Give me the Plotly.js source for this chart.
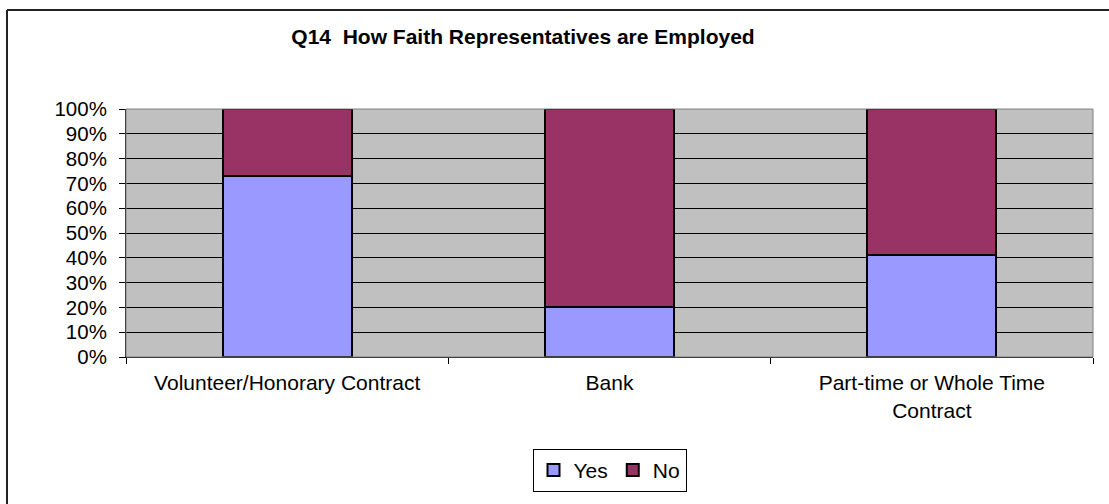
<!DOCTYPE html>
<html>
<head>
<meta charset="utf-8">
<script src="https://cdn.plot.ly/plotly-3.0.1.min.js"></script>
<style>
html, body { margin: 0; padding: 0; background: #fff; }
#chart { width: 1109px; height: 504px; }
</style>
</head>
<body>
<div id="chart"></div>
<script>
const categories = ["Volunteer/Honorary Contract", "Bank", "Part-time or Whole Time<br>Contract"];
const yesValues = [0.73, 0.20, 0.41];
const noValues = [0.27, 0.80, 0.59];
const seriesNames = ["Yes", "No"];
const titleText = "Q14  How Faith Representatives are Employed";

const W = 1109, H = 504;
const mL = 126, mR = 16, mT = 109, mB = 137;
const pw = W - mL - mR, ph = H - mT - mB;
function px(x) { return (x - mL) / pw; }
function py(y) { return (H - mB - y) / ph; }

const traces = [
  { type: "bar", name: seriesNames[0], x: categories, y: yesValues,
    marker: { color: "#9999FF", line: { color: "#000", width: 2 } } },
  { type: "bar", name: seriesNames[1], x: categories, y: noValues,
    marker: { color: "#993366", line: { color: "#000", width: 2 } } }
];

const font = "Liberation Sans, Arial, sans-serif";
const layout = {
  width: W, height: H,
  margin: { l: mL, r: mR, t: mT, b: mB, pad: 0 },
  paper_bgcolor: "#fff",
  plot_bgcolor: "#C0C0C0",
  barmode: "stack",
  bargap: 0.6,
  showlegend: true,
  font: { family: font, size: 21, color: "#000" },
  title: { text: "<b>" + titleText + "</b>", x: 523 / W, xref: "container", xanchor: "center",
           y: 1 - 37 / H, yref: "container", yanchor: "middle", font: { family: font, size: 21, color: "#000" } },
  xaxis: {
    type: "category",
    showline: true, linecolor: "#000", linewidth: 1,
    ticks: "outside", ticklen: 6, tickcolor: "#000", tickson: "boundaries",
    ticklabelstandoff: 7,
    showgrid: false, zeroline: false,
    tickfont: { family: font, size: 21, color: "#000" },
    fixedrange: true
  },
  yaxis: {
    range: [0, 1], tickvals: [0,0.1,0.2,0.3,0.4,0.5,0.6,0.7,0.8,0.9,1],
    tickformat: ".0%",
    showline: true, linecolor: "#000", linewidth: 1,
    ticks: "outside", ticklen: 6, tickcolor: "#000",
    ticklabelstandoff: 8,
    showgrid: true, gridcolor: "#000", gridwidth: 1, zeroline: false,
    tickfont: { family: font, size: 20.5, color: "#000" },
    fixedrange: true
  },
  legend: {
    orientation: "h", x: px(609.5), xanchor: "center", y: py(485), yanchor: "middle",
    bordercolor: "#000", borderwidth: 1, bgcolor: "#fff",
    font: { family: font, size: 21, color: "#000" },
    itemwidth: 30, traceorder: "normal", tracegroupgap: 0
  },
  shapes: [
    { type: "rect", xref: "paper", yref: "paper", x0: 0, x1: 1, y0: 0, y1: 1,
      line: { color: "#808080", width: 1 }, layer: "above" },
    { type: "line", xref: "paper", yref: "paper", x0: px(7), x1: px(1120), y0: py(6), y1: py(6),
      line: { color: "#222", width: 2 } },
    { type: "line", xref: "paper", yref: "paper", x0: px(7), x1: px(7), y0: py(6), y1: py(520),
      line: { color: "#222", width: 2 } }
  ]
};

Plotly.newPlot("chart", traces, layout, { displayModeBar: false, staticPlot: true });
</script>
</body>
</html>
